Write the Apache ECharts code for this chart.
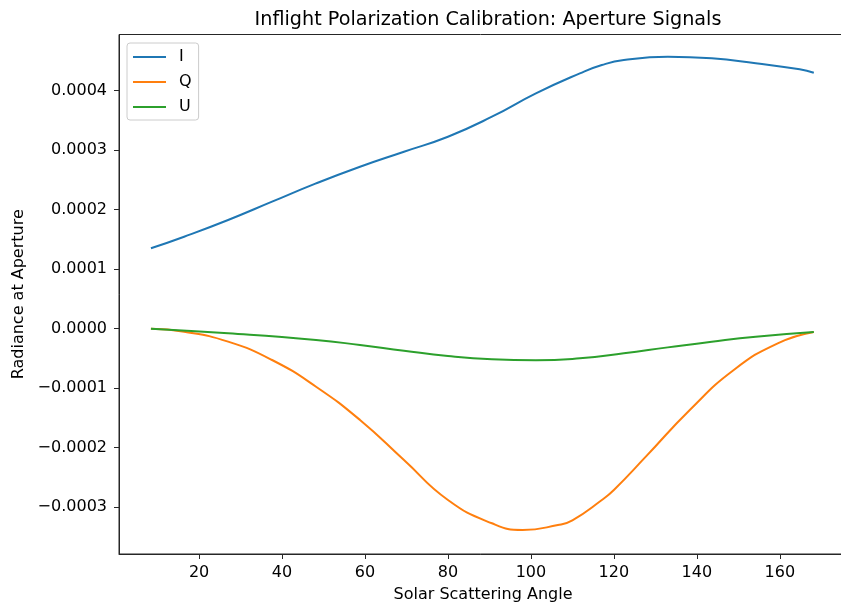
<!DOCTYPE html>
<html>
<head>
<meta charset="utf-8">
<title>Inflight Polarization Calibration: Aperture Signals</title>
<script src="https://cdn.jsdelivr.net/npm/echarts@6/dist/echarts.min.js"></script>
<style>
  html, body { margin: 0; padding: 0; background: #fff; }
  #chart { width: 841px; height: 603px; }
</style>
</head>
<body>
<div id="chart"></div>
<script>
// Stokes signals at the aperture versus solar scattering angle (degrees)
const angleI = [8.4, 16.4, 27.0, 37.6, 48.2, 58.8, 69.4, 80.0, 90.6, 101.2, 111.8, 117.1, 122.4, 133.0, 143.6, 154.2, 164.8, 168.2];
const valuesI = [0.0001351, 0.0001546, 0.0001827, 0.0002135, 0.0002443, 0.0002723, 0.0002975, 0.0003227, 0.0003563, 0.0003956, 0.0004292, 0.0004432, 0.0004516, 0.0004571, 0.0004544, 0.000446, 0.000436, 0.0004303];

const angleQ = [8.4, 16.4, 27.0, 37.6, 48.2, 58.8, 69.4, 80.0, 90.6, 98.0, 106.5, 110.0, 117.1, 120.0, 127.7, 138.3, 148.9, 159.5, 168.2];
const valuesQ = [0, -0.000005, -0.0000218, -0.0000526, -0.0000975, -0.0001534, -0.0002207, -0.0002879, -0.0003271, -0.0003383, -0.00033, -0.000322, -0.0002879, -0.000271, -0.0002151, -0.0001366, -0.0000694, -0.0000246, -0.0000055];

const angleU = [8.4, 27.0, 48.2, 58.8, 69.4, 80.0, 90.6, 101.2, 111.8, 122.4, 133.0, 143.6, 154.2, 168.2];
const valuesU = [0, -0.0000078, -0.000019, -0.0000274, -0.000037, -0.0000459, -0.0000515, -0.0000532, -0.0000498, -0.0000414, -0.0000314, -0.0000218, -0.0000134, -0.0000055];

const seriesNames = ['I', 'Q', 'U'];
const seriesColors = ['#1f77b4', '#ff7f0e', '#2ca02c'];

const xTicks = [20, 40, 60, 80, 100, 120, 140, 160];
const yTicks = [-0.0003, -0.0002, -0.0001, 0, 0.0001, 0.0002, 0.0003, 0.0004];

const FONT = 'DejaVu Sans';
const INK = '#000';
const SPINE = '#262626';

function pairs(xs, ys) {
  return xs.map((x, i) => [x, ys[i]]);
}

function yLabel(v) {
  const s = Math.abs(v) < 1e-12 ? '0.0000' : Math.abs(v).toFixed(4);
  return v < -1e-12 ? '\u2212' + s : s;
}

const chart = echarts.init(document.getElementById('chart'), null, { renderer: 'canvas' });

const lineData = [pairs(angleI, valuesI), pairs(angleQ, valuesQ), pairs(angleU, valuesU)];

chart.setOption({
  animation: false,
  backgroundColor: '#fff',
  title: {
    text: 'Inflight Polarization Calibration: Aperture Signals',
    left: 483,
    textAlign: 'center',
    top: 6,
    textStyle: { fontFamily: FONT, fontSize: 19.2, fontWeight: 'normal', color: INK }
  },
  grid: {
    left: 119,
    top: 34.5,
    width: 728,
    height: 519.5,
    outerBoundsMode: 'none',
    containLabel: false,
    show: true,
    borderColor: SPINE,
    borderWidth: 1,
    backgroundColor: 'transparent'
  },
  legend: {
    orient: 'vertical',
    left: 127,
    top: 43,
    data: seriesNames.map(n => ({ name: n, icon: 'rect' })),
    itemWidth: 33,
    itemHeight: 2,
    itemGap: 7,
    padding: [5, 7, 4, 6],
    borderColor: '#cccccc',
    borderWidth: 1,
    borderRadius: 3,
    backgroundColor: 'rgba(255,255,255,0.8)',
    textStyle: { fontFamily: FONT, fontSize: 16, color: INK, padding: [0, 0, 0, 8], lineHeight: 18 }
  },
  xAxis: {
    type: 'value',
    min: 0.7,
    max: 176.2,
    name: 'Solar Scattering Angle',
    nameLocation: 'middle',
    nameGap: 33,
    nameTextStyle: { fontFamily: FONT, fontSize: 16, color: INK },
    axisLine: { show: true, onZero: false, lineStyle: { color: SPINE, width: 1 } },
    axisTick: { show: true, length: 5, inside: false, customValues: xTicks, lineStyle: { color: SPINE, width: 1 } },
    axisLabel: { customValues: xTicks, fontFamily: FONT, fontSize: 16, color: INK, margin: 11 },
    splitLine: { show: false }
  },
  yAxis: {
    type: 'value',
    min: -0.0003787,
    max: 0.0004945,
    name: 'Radiance at Aperture',
    nameLocation: 'middle',
    nameGap: 89,
    nameRotate: 90,
    nameTextStyle: { fontFamily: FONT, fontSize: 16, color: INK },
    axisLine: { show: true, onZero: false, lineStyle: { color: SPINE, width: 1 } },
    axisTick: { show: true, length: 5, inside: false, customValues: yTicks, lineStyle: { color: SPINE, width: 1 } },
    axisLabel: { customValues: yTicks, fontFamily: FONT, fontSize: 16, color: INK, margin: 12, formatter: yLabel },
    splitLine: { show: false }
  },
  series: seriesNames.map((name, i) => ({
    name: name,
    type: 'line',
    data: lineData[i],
    smooth: 0.5,
    showSymbol: false,
    symbol: 'none',
    clip: true,
    color: seriesColors[i],
    lineStyle: { color: seriesColors[i], width: 2 }
  }))
});
</script>
</body>
</html>
